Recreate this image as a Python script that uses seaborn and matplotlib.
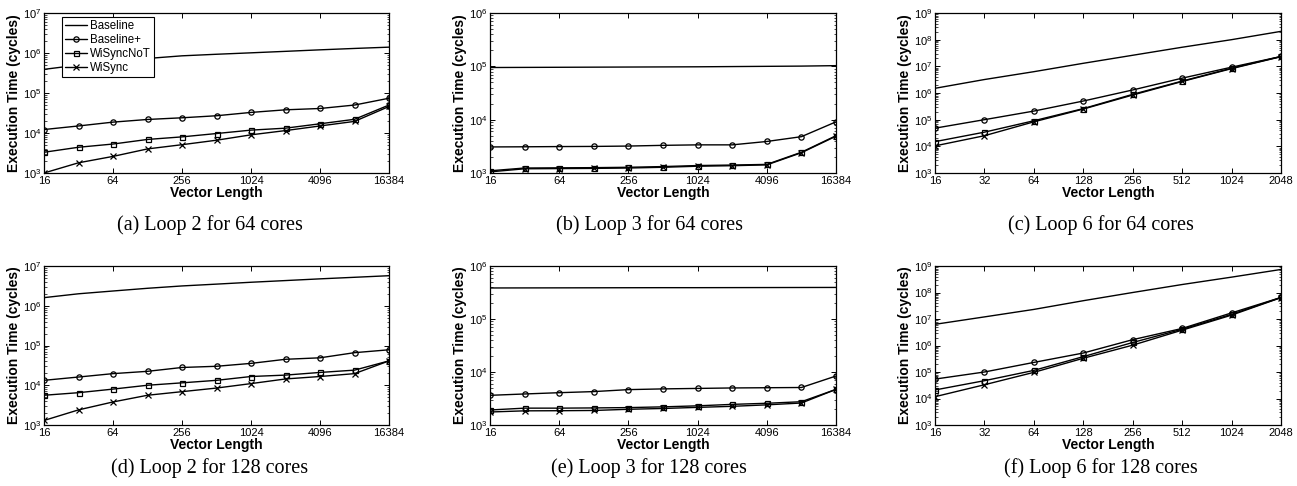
import matplotlib
matplotlib.use("Agg")
import matplotlib.pyplot as plt
import matplotlib.ticker as mticker
import seaborn as sns
import numpy as np

# ---------------- data ----------------
series_names = ["Baseline", "Baseline+", "WiSyncNoT", "WiSync"]

x_long = [16, 32, 64, 128, 256, 512, 1024, 2048, 4096, 8192, 16384]
x_short = [16, 32, 64, 128, 256, 512, 1024, 2048]
ticks_long = [16, 64, 256, 1024, 4096, 16384]
ticks_short = [16, 32, 64, 128, 256, 512, 1024, 2048]

# (a) Loop 2, 64 cores
l2_64_baseline = [3.9e5, 5.0e5, 6.1e5, 7.3e5, 8.5e5, 9.3e5, 1.01e6, 1.1e6, 1.2e6, 1.3e6, 1.4e6]
l2_64_baselinep = [1.22e4, 1.5e4, 1.87e4, 2.18e4, 2.4e4, 2.7e4, 3.27e4, 3.8e4, 4.1e4, 5.0e4, 7.4e4]
l2_64_not = [3.3e3, 4.4e3, 5.3e3, 6.9e3, 8.0e3, 9.7e3, 1.18e4, 1.32e4, 1.7e4, 2.2e4, 5.0e4]
l2_64_wisync = [1.0e3, 1.8e3, 2.6e3, 4.0e3, 5.1e3, 6.6e3, 9.0e3, 1.15e4, 1.5e4, 1.95e4, 4.6e4]

# (b) Loop 3, 64 cores
l3_64_baseline = [9.5e4, 9.55e4, 9.6e4, 9.65e4, 9.7e4, 9.75e4, 9.8e4, 9.9e4, 1.0e5, 1.01e5, 1.03e5]
l3_64_baselinep = [3.08e3, 3.1e3, 3.13e3, 3.15e3, 3.2e3, 3.3e3, 3.37e3, 3.37e3, 3.9e3, 4.8e3, 9.1e3]
l3_64_not = [1.1e3, 1.24e3, 1.25e3, 1.26e3, 1.28e3, 1.32e3, 1.38e3, 1.41e3, 1.45e3, 2.45e3, 5.0e3]
l3_64_wisync = [1.05e3, 1.2e3, 1.21e3, 1.22e3, 1.24e3, 1.28e3, 1.34e3, 1.37e3, 1.42e3, 2.4e3, 4.9e3]

# (c) Loop 6, 64 cores
l6_64_baseline = [1.5e6, 3.2e6, 6.3e6, 1.3e7, 2.6e7, 5.2e7, 1.0e8, 2.05e8]
l6_64_baselinep = [4.8e4, 1.0e5, 2.1e5, 5.0e5, 1.3e6, 3.6e6, 9.3e6, 2.34e7]
l6_64_not = [1.5e4, 3.4e4, 9.1e4, 2.6e5, 8.9e5, 2.8e6, 8.5e6, 2.34e7]
l6_64_wisync = [1.04e4, 2.5e4, 8.3e4, 2.5e5, 8.4e5, 2.7e6, 8.2e6, 2.3e7]

# (d) Loop 2, 128 cores
l2_128_baseline = [1.6e6, 2.0e6, 2.35e6, 2.75e6, 3.15e6, 3.5e6, 3.9e6, 4.3e6, 4.75e6, 5.2e6, 5.7e6]
l2_128_baselinep = [1.33e4, 1.61e4, 1.96e4, 2.24e4, 2.8e4, 3.0e4, 3.55e4, 4.5e4, 4.9e4, 6.6e4, 7.8e4]
l2_128_not = [5.6e3, 6.5e3, 8.0e3, 1.0e4, 1.15e4, 1.33e4, 1.66e4, 1.8e4, 2.1e4, 2.4e4, 4.1e4]
l2_128_wisync = [1.3e3, 2.4e3, 3.8e3, 5.6e3, 6.9e3, 8.5e3, 1.1e4, 1.44e4, 1.66e4, 1.96e4, 4.1e4]

# (e) Loop 3, 128 cores
l3_128_baseline = [3.85e5, 3.86e5, 3.87e5, 3.88e5, 3.89e5, 3.9e5, 3.9e5, 3.91e5, 3.92e5, 3.93e5, 3.94e5]
l3_128_baselinep = [3.63e3, 3.85e3, 4.07e3, 4.27e3, 4.65e3, 4.8e3, 4.9e3, 5.0e3, 5.05e3, 5.1e3, 8.4e3]
l3_128_not = [1.92e3, 2.08e3, 2.08e3, 2.1e3, 2.13e3, 2.2e3, 2.3e3, 2.45e3, 2.57e3, 2.75e3, 4.7e3]
l3_128_wisync = [1.76e3, 1.85e3, 1.86e3, 1.88e3, 1.98e3, 2.05e3, 2.15e3, 2.25e3, 2.4e3, 2.6e3, 4.7e3]

# (f) Loop 6, 128 cores
l6_128_baseline = [6.3e6, 1.2e7, 2.3e7, 4.9e7, 1.0e8, 2.0e8, 3.8e8, 7.4e8]
l6_128_baselinep = [5.4e4, 1.0e5, 2.3e5, 5.2e5, 1.66e6, 4.4e6, 1.7e7, 6.5e7]
l6_128_not = [2.1e4, 4.7e4, 1.15e5, 3.8e5, 1.3e6, 4.1e6, 1.5e7, 6.5e7]
l6_128_wisync = [1.17e4, 3.3e4, 9.7e4, 3.3e5, 1.03e6, 3.8e6, 1.4e7, 6.4e7]

captions = ["(a) Loop 2 for 64 cores", "(b) Loop 3 for 64 cores", "(c) Loop 6 for 64 cores",
            "(d) Loop 2 for 128 cores", "(e) Loop 3 for 128 cores", "(f) Loop 6 for 128 cores"]

panels = [
    (x_long, ticks_long, (1e3, 1e7), [l2_64_baseline, l2_64_baselinep, l2_64_not, l2_64_wisync]),
    (x_long, ticks_long, (1e3, 1e6), [l3_64_baseline, l3_64_baselinep, l3_64_not, l3_64_wisync]),
    (x_short, ticks_short, (1e3, 1e9), [l6_64_baseline, l6_64_baselinep, l6_64_not, l6_64_wisync]),
    (x_long, ticks_long, (1e3, 1e7), [l2_128_baseline, l2_128_baselinep, l2_128_not, l2_128_wisync]),
    (x_long, ticks_long, (1e3, 1e6), [l3_128_baseline, l3_128_baselinep, l3_128_not, l3_128_wisync]),
    (x_short, ticks_short, (1e3, 1e9), [l6_128_baseline, l6_128_baselinep, l6_128_not, l6_128_wisync]),
]

# ---------------- style ----------------
sns.set_style("ticks")
plt.rcParams["font.family"] = ["Liberation Sans", "DejaVu Sans"]
plt.rcParams["mathtext.fontset"] = "custom"
plt.rcParams["mathtext.rm"] = "Liberation Sans"
plt.rcParams["mathtext.it"] = "Liberation Sans:italic"
plt.rcParams["mathtext.bf"] = "Liberation Sans:bold"
for key in ["text.color", "axes.labelcolor", "xtick.color", "ytick.color", "axes.edgecolor"]:
    plt.rcParams[key] = "black"

W, H = 1297, 486
fig = plt.figure(figsize=(W / 100, H / 100), dpi=100)

col_left = [44, 490, 935]
col_w = [345, 346, 346]
row_top = [13, 266]
row_h = [160, 159]
cap_x = [210, 649, 1101]
cap_y = [225, 468]

styles = [
    dict(),
    dict(marker="o", markersize=3.8, markerfacecolor="none", markeredgecolor="black", markeredgewidth=0.9),
    dict(marker="s", markersize=3.6, markerfacecolor="none", markeredgecolor="black", markeredgewidth=0.9),
    dict(marker="x", markersize=4.0, markeredgecolor="black", markeredgewidth=0.9),
]

for i, (xs, xticks, ylim, ys_list) in enumerate(panels):
    r, c = divmod(i, 3)
    left = col_left[c] / W
    bottom = 1 - (row_top[r] + row_h[r]) / H
    ax = fig.add_axes([left, bottom, col_w[c] / W, row_h[r] / H])
    for name, ys, st in zip(series_names, ys_list, styles):
        sns.lineplot(x=xs, y=ys, ax=ax, color="black", linewidth=1.0,
                     label=name if i == 0 else None, legend=False, **st)
    ax.set_xscale("log", base=2)
    ax.set_yscale("log")
    ax.set_xlim(xs[0], xs[-1])
    ax.set_ylim(*ylim)
    ax.xaxis.set_major_locator(mticker.FixedLocator(xticks))
    ax.xaxis.set_major_formatter(mticker.FixedFormatter([str(t) for t in xticks]))
    ax.xaxis.set_minor_locator(mticker.NullLocator())
    ax.yaxis.set_major_locator(mticker.LogLocator(base=10, numticks=20))
    ax.yaxis.set_minor_locator(mticker.LogLocator(base=10, subs=np.arange(2, 10), numticks=20))
    ax.yaxis.set_minor_formatter(mticker.NullFormatter())
    ax.tick_params(which="both", direction="in", top=True, right=True, labelsize=8, pad=2)
    ax.tick_params(which="major", length=3.5, width=0.7)
    ax.tick_params(which="minor", length=1.8, width=0.5)
    for sp in ax.spines.values():
        sp.set_linewidth(0.9)
        sp.set_color("black")
    ax.set_xlabel("Vector Length", fontsize=10, fontweight="bold", labelpad=0)
    ax.set_ylabel("Execution Time (cycles)", fontsize=10, fontweight="bold", labelpad=1)
    fig.text(cap_x[c] / W, 1 - cap_y[r] / H, captions[i], ha="center", va="center",
             fontsize=14.5, family=["Liberation Serif", "DejaVu Serif"])
    if i == 0:
        leg = ax.legend(loc="upper left", bbox_to_anchor=(18 / 345, 1 - 4 / 160),
                        borderaxespad=0, fontsize=8.3, frameon=True, fancybox=False,
                        edgecolor="black", framealpha=1, handlelength=1.9,
                        handletextpad=0.2, labelspacing=0.15, borderpad=0.3)
        leg.get_frame().set_linewidth(0.8)

fig.savefig("out.png", dpi=100)
